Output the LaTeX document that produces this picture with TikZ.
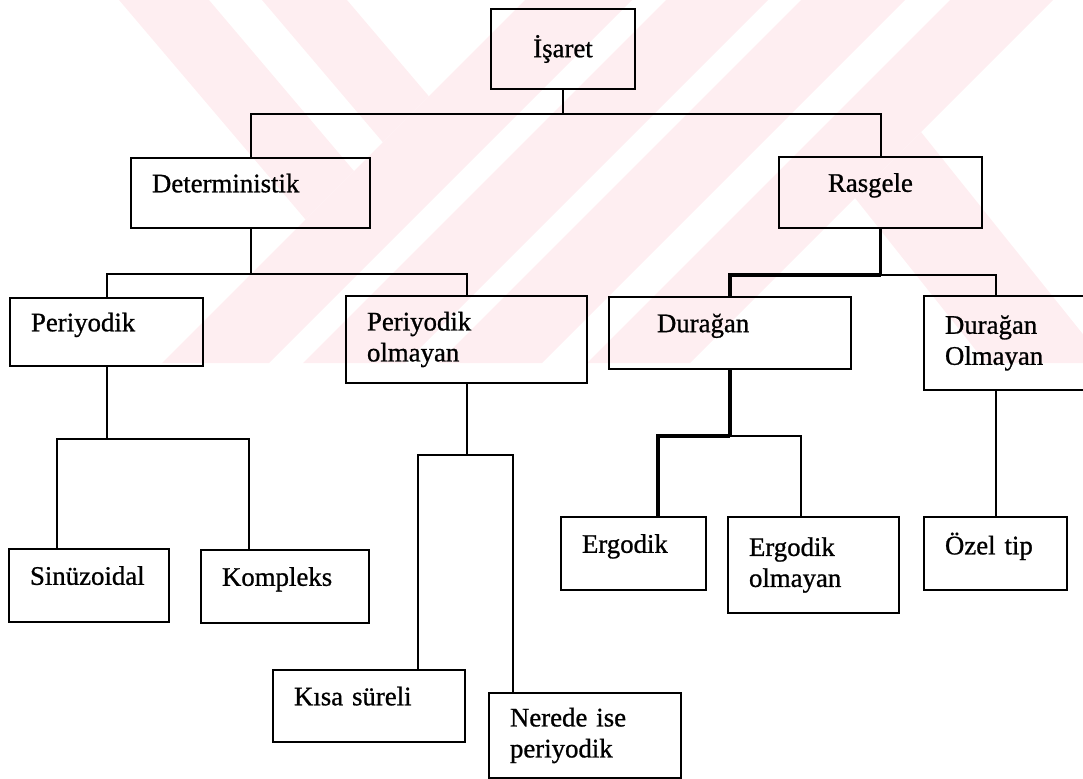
\documentclass[tikz,border=0pt]{standalone}
\usepackage{fontspec}
\setmainfont{Liberation Serif}
\newfontfamily\taramayazi[FakeBold=0.9]{Liberation Serif}
\usetikzlibrary{calc}
\definecolor{filigran}{RGB}{254,238,241}

\begin{document}
\begin{tikzpicture}[x=0.5pt,y=-0.5pt,
  kutu/.style={draw,line width=1pt,anchor=north west,align=left,inner xsep=10.5pt,inner ysep=0pt,font=\taramayazi\fontsize{13.4}{15.5}\selectfont},
  tek/.style={text depth=10pt},
  bag/.style={line width=1pt},
  kalin/.style={line width=1.6pt}]
\useasboundingbox (0,0) rectangle (1083,778);

% watermark:
\begin{scope}
\clip (0,0) rectangle (1083,363);
\fill[filigran] (119,0) -- (209,0) -- (354,171) -- (305.5,219.5) -- cycle;
\fill[filigran] (262,0) -- (347,0) -- (428.8,96.2) -- (382.8,142.2) -- cycle;
\fill[filigran] (525,0) -- (632,0) -- (269,363) -- (162,363) -- cycle;
\fill[filigran] (666,0) -- (768,0) -- (405,363) -- (303,363) -- cycle;
\fill[filigran] (801,0) -- (905,0) -- (542,363) -- (438,363) -- cycle;
\fill[filigran] (950,0) -- (1053,0) -- (690,363) -- (587,363) -- cycle;
\fill[filigran] (921,132) -- (855,198) -- (986,363) -- (1106,363) -- cycle;
\end{scope}

% 1st tier:
\node[kutu,align=center,text width=51pt,minimum height=40pt] (isa) at (490,8) {İşaret};

% 2nd tier:
\node[kutu,tek,text width=98.5pt,minimum height=35pt] (det) at (130,157) {Deterministik};
\node[kutu,tek,text width=80.5pt,minimum height=35.5pt] (ras) at (778,156) {\hspace*{14pt}Rasgele};

% 3rd tier:
\node[kutu,tek,text width=75.5pt,minimum height=34pt] (per) at (9,297) {Periyodik};
\node[kutu,text width=99.5pt,minimum height=43.5pt] (pol) at (345,295) {Periyodik\\olmayan};
\node[kutu,tek,text width=100pt,minimum height=36pt] (dur) at (608,296) {\hspace*{13.5pt}Durağan};
\node[kutu,text width=64pt,minimum height=47pt] (dol) at (923,295) {Durağan\\Olmayan};

% 4th tier:
\node[kutu,tek,text width=59pt,minimum height=36.5pt] (sin) at (8,548) {Sinüzoidal};
\node[kutu,tek,text width=63pt,minimum height=36.5pt] (kom) at (200,549) {Kompleks};
\node[kutu,tek,text width=51.5pt,minimum height=36.5pt] (erg) at (560,516) {Ergodik};
\node[kutu,text width=64.5pt,minimum height=48pt] (ego) at (727,516) {Ergodik\\olmayan};
\node[kutu,tek,text width=50.5pt,minimum height=36.5pt] (oze) at (923,516) {Özel tip};

% bottom tier:
\node[kutu,tek,text width=75pt,minimum height=36pt] (kisa) at (272,669) {Kısa süreli};
\node[kutu,text width=75pt,minimum height=42.5pt] (ner) at (488,692) {Nerede ise\\periyodik};

% connectors:
\draw[bag] (isa.south) -- ++(0,24) coordinate (c1);
\draw[bag] (det.north) |- (c1) -| (ras.north);

\draw[bag] (det.south) -- ++(0,45) coordinate (c2);
\draw[bag] (per.north) |- (c2) -| (pol.north);

\draw[kalin] (ras.south) -- ++(0,46) coordinate (c3);
\draw[kalin] (dur.north) |- (c3);
\draw[bag] (c3) -| (oze.north |- dol.north);

\draw[bag] (per.south) -- ++(0,72) coordinate (c4);
\draw[bag] ($(sin.north west)+(49,0)$) |- (c4) -| ($(kom.north west)+(49,0)$);

\draw[bag] (pol.south) -- ++(0,71) coordinate (c5);
\draw[bag] ($(kisa.north east)+(-48,0)$) |- (c5) -| ($(ner.north west)+(25,0)$);

\draw[kalin] (dur.south) -- ++(0,66) coordinate (c6);
\draw[kalin] ($(erg.north east)+(-49,0)$) |- (c6);
\draw[bag] (c6) -| ($(ego.north west)+(74,0)$);

\draw[bag] (dol.south -| oze.north) -- (oze.north);

\end{tikzpicture}
\end{document}
